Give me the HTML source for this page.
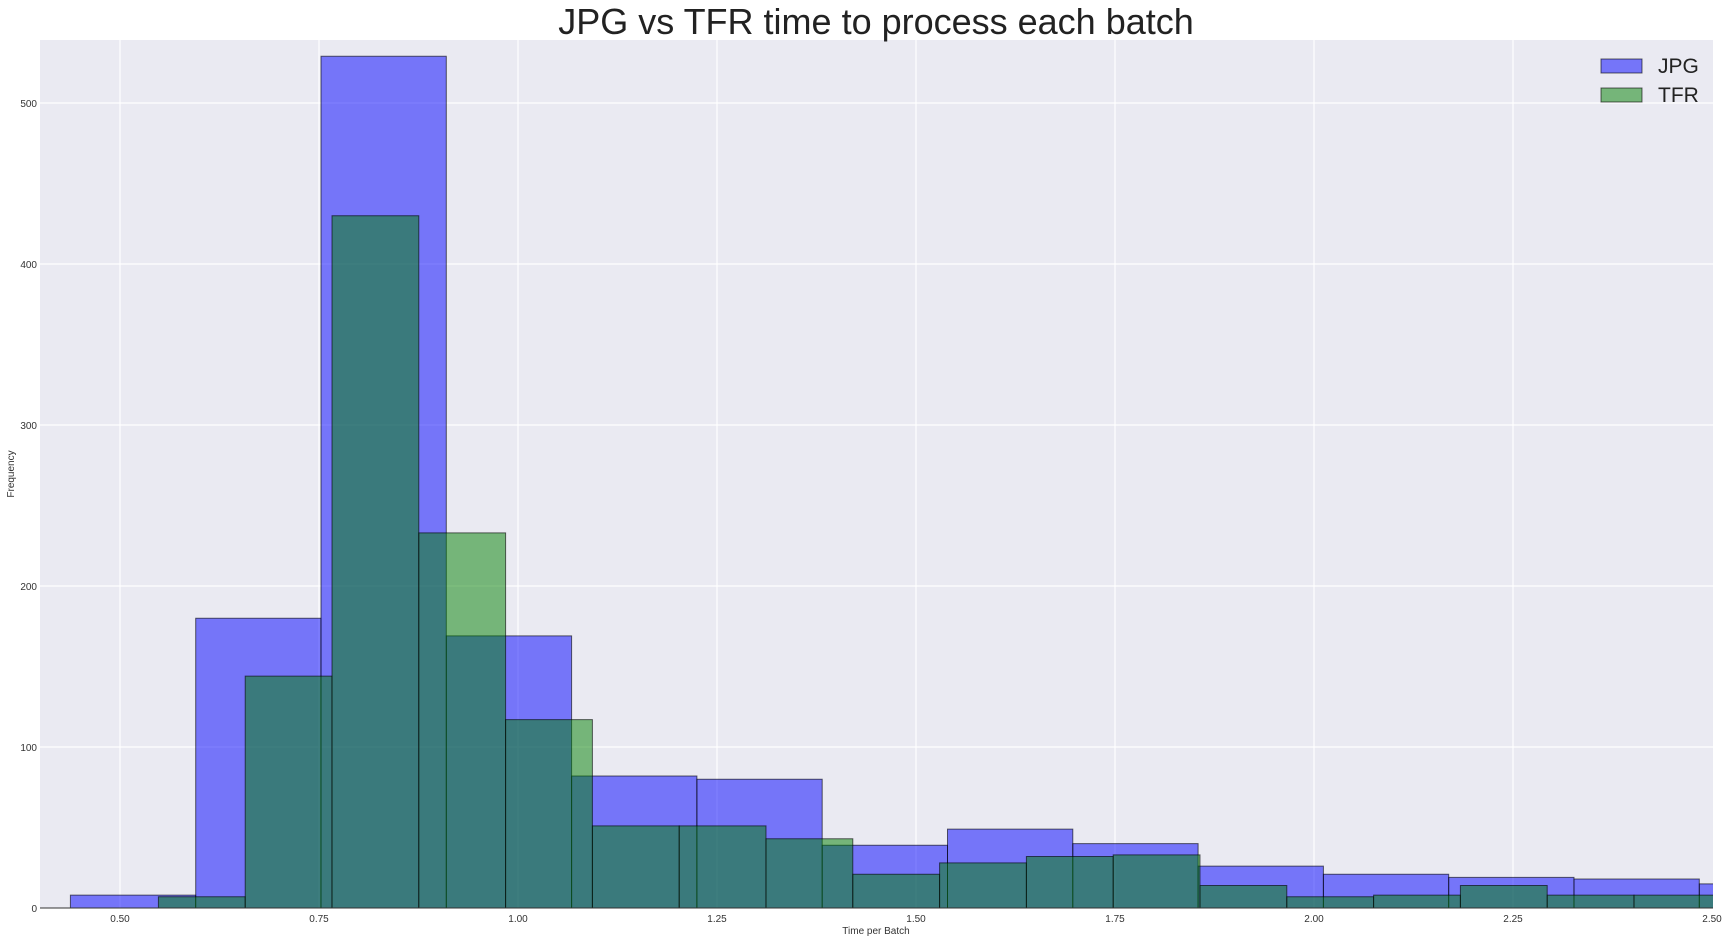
<!DOCTYPE html>
<html><head><meta charset="utf-8"><style>
html,body{margin:0;padding:0;background:#fff;}
svg{display:block;font-family:"Liberation Sans","DejaVu Sans",sans-serif;}
</style></head><body>
<svg width="1731" height="942" viewBox="0 0 1731 942" xmlns="http://www.w3.org/2000/svg">
<defs><clipPath id="c"><rect x="40" y="40" width="1673" height="868"/></clipPath></defs>
<rect x="40" y="40" width="1673" height="868" fill="#eaeaf2"/>
<g stroke="#fff" stroke-width="1.2">
<line x1="120" y1="40" x2="120" y2="908"/><line x1="319" y1="40" x2="319" y2="908"/><line x1="518" y1="40" x2="518" y2="908"/><line x1="717" y1="40" x2="717" y2="908"/><line x1="916" y1="40" x2="916" y2="908"/><line x1="1115" y1="40" x2="1115" y2="908"/><line x1="1314" y1="40" x2="1314" y2="908"/><line x1="1513" y1="40" x2="1513" y2="908"/>
<line x1="40" y1="747" x2="1713" y2="747"/><line x1="40" y1="586" x2="1713" y2="586"/><line x1="40" y1="425" x2="1713" y2="425"/><line x1="40" y1="264" x2="1713" y2="264"/><line x1="40" y1="103" x2="1713" y2="103"/>
</g>
<g clip-path="url(#c)">
<g transform="translate(70.4,908) scale(125.3,-1.61)" fill="#0000ff" fill-opacity="0.5" stroke="#000" stroke-opacity="0.6" stroke-width="1">
<rect x="0" y="0" width="1" height="8" vector-effect="non-scaling-stroke"/>
<rect x="1" y="0" width="1" height="180" vector-effect="non-scaling-stroke"/>
<rect x="2" y="0" width="1" height="529" vector-effect="non-scaling-stroke"/>
<rect x="3" y="0" width="1" height="169" vector-effect="non-scaling-stroke"/>
<rect x="4" y="0" width="1" height="82" vector-effect="non-scaling-stroke"/>
<rect x="5" y="0" width="1" height="80" vector-effect="non-scaling-stroke"/>
<rect x="6" y="0" width="1" height="39" vector-effect="non-scaling-stroke"/>
<rect x="7" y="0" width="1" height="49" vector-effect="non-scaling-stroke"/>
<rect x="8" y="0" width="1" height="40" vector-effect="non-scaling-stroke"/>
<rect x="9" y="0" width="1" height="26" vector-effect="non-scaling-stroke"/>
<rect x="10" y="0" width="1" height="21" vector-effect="non-scaling-stroke"/>
<rect x="11" y="0" width="1" height="19" vector-effect="non-scaling-stroke"/>
<rect x="12" y="0" width="1" height="18" vector-effect="non-scaling-stroke"/>
<rect x="13" y="0" width="1" height="15" vector-effect="non-scaling-stroke"/>
</g>
<g transform="translate(158.4,908) scale(86.8,-1.61)" fill="#008000" fill-opacity="0.5" stroke="#000" stroke-opacity="0.6" stroke-width="1">
<rect x="0" y="0" width="1" height="7" vector-effect="non-scaling-stroke"/>
<rect x="1" y="0" width="1" height="144" vector-effect="non-scaling-stroke"/>
<rect x="2" y="0" width="1" height="430" vector-effect="non-scaling-stroke"/>
<rect x="3" y="0" width="1" height="233" vector-effect="non-scaling-stroke"/>
<rect x="4" y="0" width="1" height="117" vector-effect="non-scaling-stroke"/>
<rect x="5" y="0" width="1" height="51" vector-effect="non-scaling-stroke"/>
<rect x="6" y="0" width="1" height="51" vector-effect="non-scaling-stroke"/>
<rect x="7" y="0" width="1" height="43" vector-effect="non-scaling-stroke"/>
<rect x="8" y="0" width="1" height="21" vector-effect="non-scaling-stroke"/>
<rect x="9" y="0" width="1" height="28" vector-effect="non-scaling-stroke"/>
<rect x="10" y="0" width="1" height="32" vector-effect="non-scaling-stroke"/>
<rect x="11" y="0" width="1" height="33" vector-effect="non-scaling-stroke"/>
<rect x="12" y="0" width="1" height="14" vector-effect="non-scaling-stroke"/>
<rect x="13" y="0" width="1" height="7" vector-effect="non-scaling-stroke"/>
<rect x="14" y="0" width="1" height="8" vector-effect="non-scaling-stroke"/>
<rect x="15" y="0" width="1" height="14" vector-effect="non-scaling-stroke"/>
<rect x="16" y="0" width="1" height="8" vector-effect="non-scaling-stroke"/>
<rect x="17" y="0" width="1" height="8" vector-effect="non-scaling-stroke"/>
</g>
</g>
<line x1="40" y1="908" x2="1713" y2="908" stroke="#333" stroke-width="1"/>
<g font-size="10" fill="#333" text-anchor="end">
<text x="37" y="912">0</text><text x="37" y="751">100</text><text x="37" y="590">200</text><text x="37" y="429">300</text><text x="37" y="268">400</text><text x="37" y="107">500</text>
</g>
<g font-size="10" fill="#333" text-anchor="middle">
<text x="120" y="922">0.50</text><text x="319" y="922">0.75</text><text x="518" y="922">1.00</text><text x="717" y="922">1.25</text><text x="916" y="922">1.50</text><text x="1115" y="922">1.75</text><text x="1314" y="922">2.00</text><text x="1513" y="922">2.25</text><text x="1712" y="922">2.50</text>
<text x="876" y="934">Time per Batch</text>
<text transform="translate(14,474) rotate(-90)">Frequency</text>
</g>
<text x="876" y="34" font-size="36" fill="#222" text-anchor="middle">JPG vs TFR time to process each batch</text>
<rect x="1601" y="59" width="41" height="14" fill="#0000ff" fill-opacity="0.5" stroke="#000" stroke-opacity="0.6"/>
<rect x="1601" y="88" width="41" height="14" fill="#008000" fill-opacity="0.5" stroke="#000" stroke-opacity="0.6"/>
<text x="1658" y="73" font-size="21" fill="#222">JPG</text>
<text x="1658" y="102" font-size="21" fill="#222">TFR</text>
</svg>
</body></html>
